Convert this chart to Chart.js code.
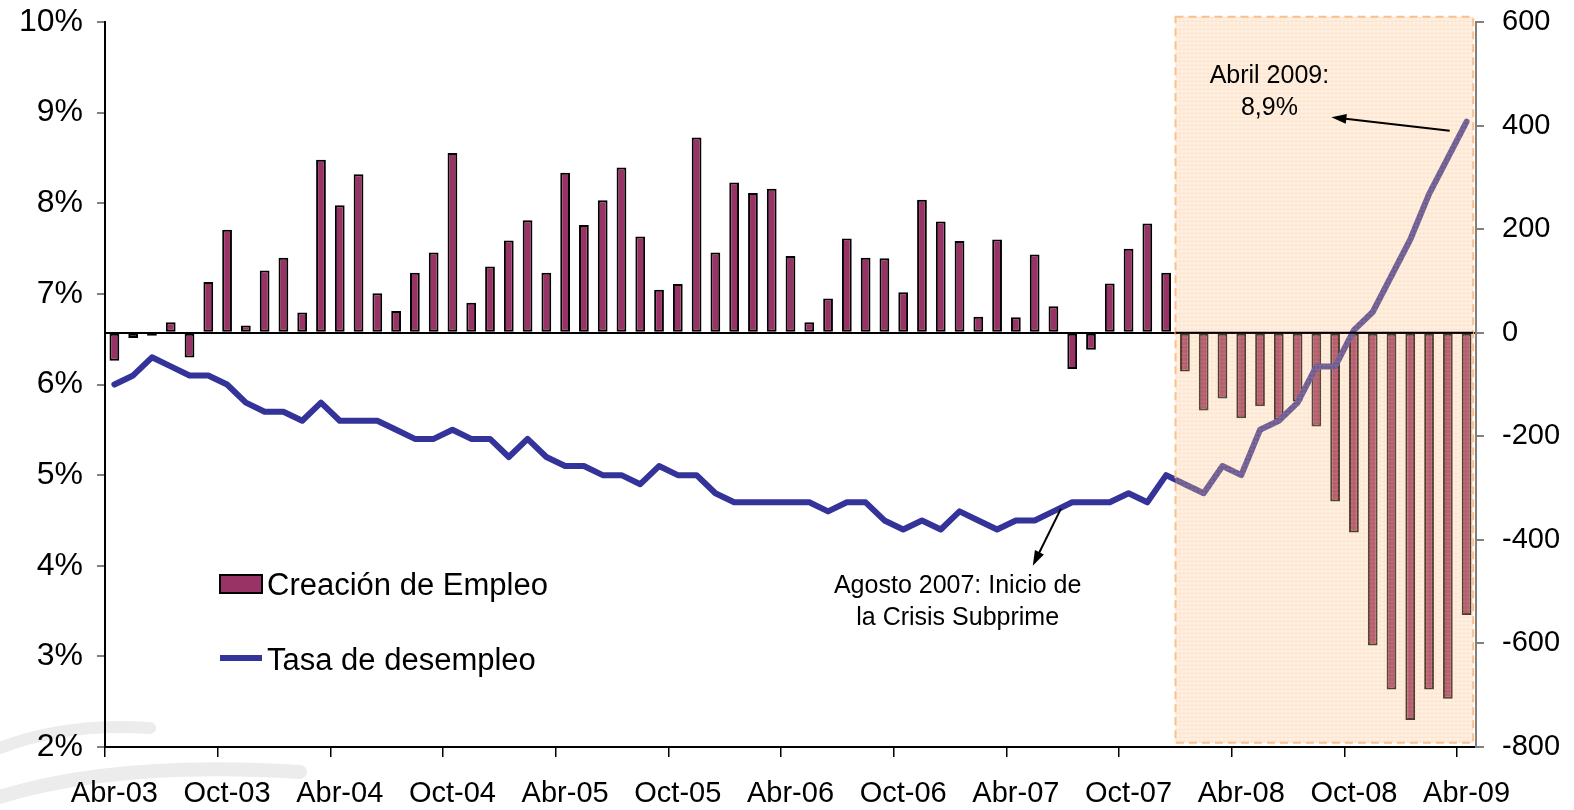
<!DOCTYPE html>
<html>
<head>
<meta charset="utf-8">
<script src="https://cdn.jsdelivr.net/npm/chart.js@4.4.1/dist/chart.umd.min.js"></script>
<style>
  html, body { margin: 0; padding: 0; background: #fff; }
</style>
</head>
<body>
<canvas id="grafico" width="1574" height="810"></canvas>
<script>
/* ===== Empleo vs desempleo, Abr-03 a Abr-09 ===== */

const meses = [
  'Abr-03', 'May-03', 'Jun-03', 'Jul-03', 'Ago-03', 'Sep-03', 'Oct-03', 'Nov-03', 'Dic-03',
  'Ene-04', 'Feb-04', 'Mar-04', 'Abr-04', 'May-04', 'Jun-04', 'Jul-04', 'Ago-04', 'Sep-04', 'Oct-04', 'Nov-04', 'Dic-04',
  'Ene-05', 'Feb-05', 'Mar-05', 'Abr-05', 'May-05', 'Jun-05', 'Jul-05', 'Ago-05', 'Sep-05', 'Oct-05', 'Nov-05', 'Dic-05',
  'Ene-06', 'Feb-06', 'Mar-06', 'Abr-06', 'May-06', 'Jun-06', 'Jul-06', 'Ago-06', 'Sep-06', 'Oct-06', 'Nov-06', 'Dic-06',
  'Ene-07', 'Feb-07', 'Mar-07', 'Abr-07', 'May-07', 'Jun-07', 'Jul-07', 'Ago-07', 'Sep-07', 'Oct-07', 'Nov-07', 'Dic-07',
  'Ene-08', 'Feb-08', 'Mar-08', 'Abr-08', 'May-08', 'Jun-08', 'Jul-08', 'Ago-08', 'Sep-08', 'Oct-08', 'Nov-08', 'Dic-08',
  'Ene-09', 'Feb-09', 'Mar-09', 'Abr-09'
];

// creación de empleo (miles), eje derecho
const empleo = [
  -54, -10, -6, 20, -48, 98, 199, 14, 120,
  145, 39, 334, 246, 306, 76, 42, 116, 155, 347, 58, 128,
  178, 217, 116, 309, 208, 256, 319, 186, 83, 94, 377, 155,
  290, 270, 278, 148, 20, 66, 182, 145, 144, 78, 257, 215,
  177, 31, 180, 30, 151, 51, -70, -33, 95, 162, 211, 116,
  -75, -150, -127, -165, -142, -168, -133, -181, -326, -386, -604, -689,
  -748, -689, -707, -545
];

// tasa de desempleo (%), eje izquierdo
const desempleo = [
  6.0, 6.1, 6.3, 6.2, 6.1, 6.1, 6.0, 5.8, 5.7,
  5.7, 5.6, 5.8, 5.6, 5.6, 5.6, 5.5, 5.4, 5.4, 5.5, 5.4, 5.4,
  5.2, 5.4, 5.2, 5.1, 5.1, 5.0, 5.0, 4.9, 5.1, 5.0, 5.0, 4.8,
  4.7, 4.7, 4.7, 4.7, 4.7, 4.6, 4.7, 4.7, 4.5, 4.4, 4.5, 4.4,
  4.6, 4.5, 4.4, 4.5, 4.5, 4.6, 4.7, 4.7, 4.7, 4.8, 4.7, 5.0,
  4.9, 4.8, 5.1, 5.0, 5.5, 5.6, 5.8, 6.2, 6.2, 6.6, 6.8, 7.2,
  7.6, 8.1, 8.5, 8.9
];

const FUENTE = "'Liberation Sans', Arial, sans-serif";

// zona sombreada de la crisis (índices de mes y valores del eje derecho)
const zonaCrisis = { desde: 56.5, hasta: 72.35, arriba: 610, abajo: -792 };

/**
 * Dibuja una flecha con punta rellena en (x2, y2).
 */
function flecha(ctx, x1, y1, x2, y2) {
  const ang = Math.atan2(y2 - y1, x2 - x1);
  const largo = 15, ancho = 5;
  ctx.save();
  ctx.strokeStyle = '#000';
  ctx.fillStyle = '#000';
  ctx.lineWidth = 2;
  ctx.beginPath();
  ctx.moveTo(x1, y1);
  ctx.lineTo(x2 - Math.cos(ang) * largo * 0.8, y2 - Math.sin(ang) * largo * 0.8);
  ctx.stroke();
  ctx.beginPath();
  ctx.moveTo(x2, y2);
  ctx.lineTo(x2 - largo * Math.cos(ang) + ancho * Math.sin(ang), y2 - largo * Math.sin(ang) - ancho * Math.cos(ang));
  ctx.lineTo(x2 - largo * Math.cos(ang) - ancho * Math.sin(ang), y2 - largo * Math.sin(ang) + ancho * Math.cos(ang));
  ctx.closePath();
  ctx.fill();
  ctx.restore();
}

// marca de agua gris en la esquina inferior izquierda
const fondoPlugin = {
  id: 'fondo',
  beforeDraw(chart) {
    const { ctx } = chart;
    ctx.save();
    ctx.strokeStyle = '#ececec';
    ctx.lineCap = 'round';
    ctx.lineWidth = 12;
    ctx.beginPath();
    ctx.moveTo(-10, 752);
    ctx.quadraticCurveTo(60, 722, 150, 728);
    ctx.stroke();
    ctx.lineWidth = 14;
    ctx.beginPath();
    ctx.moveTo(-10, 800);
    ctx.quadraticCurveTo(110, 760, 300, 772);
    ctx.stroke();
    ctx.restore();
  }
};

const zonaPlugin = {
  id: 'zona',
  afterDatasetsDraw(chart) {
    const { ctx, scales: { x, y1 } } = chart;
    const left = x.getPixelForValue(zonaCrisis.desde);
    const right = x.getPixelForValue(zonaCrisis.hasta);
    const top = y1.getPixelForValue(zonaCrisis.arriba);
    const bottom = y1.getPixelForValue(zonaCrisis.abajo);
    ctx.save();
    ctx.fillStyle = 'rgba(252, 200, 150, 0.28)';
    ctx.fillRect(left, top, right - left, bottom - top);
    // trama fina
    ctx.strokeStyle = 'rgba(250, 180, 120, 0.16)';
    ctx.lineWidth = 1;
    ctx.beginPath();
    for (let px = left; px < right; px += 4) { ctx.moveTo(px + 0.5, top); ctx.lineTo(px + 0.5, bottom); }
    for (let py = top; py < bottom; py += 4) { ctx.moveTo(left, py + 0.5); ctx.lineTo(right, py + 0.5); }
    ctx.stroke();
    ctx.setLineDash([8, 5]);
    ctx.strokeStyle = '#fbc08c';
    ctx.lineWidth = 2;
    ctx.strokeRect(left, top, right - left, bottom - top);
    ctx.setLineDash([]);
    // línea de cero visible sobre la zona
    const y0 = y1.getPixelForValue(0);
    ctx.strokeStyle = '#000';
    ctx.lineWidth = 2;
    ctx.beginPath();
    ctx.moveTo(left, y0);
    ctx.lineTo(right, y0);
    ctx.stroke();
    ctx.restore();
  }
};

const notasPlugin = {
  id: 'notas',
  afterDraw(chart) {
    const { ctx, scales: { x, y } } = chart;
    ctx.save();
    ctx.fillStyle = '#000';
    ctx.textAlign = 'center';
    ctx.textBaseline = 'middle';
    ctx.font = '25px ' + FUENTE;
    ctx.fillText('Abril 2009:', x.getPixelForValue(61.5), y.getPixelForValue(9.4));
    ctx.fillText('8,9%', x.getPixelForValue(61.5), y.getPixelForValue(9.05));
    flecha(ctx, x.getPixelForValue(71.1), y.getPixelForValue(8.8), x.getPixelForValue(64.8), y.getPixelForValue(8.95));

    ctx.fillText('Agosto 2007: Inicio de', x.getPixelForValue(44.9), y.getPixelForValue(3.77));
    ctx.fillText('la Crisis Subprime', x.getPixelForValue(44.9), y.getPixelForValue(3.42));
    flecha(ctx, x.getPixelForValue(50.4), y.getPixelForValue(4.63), x.getPixelForValue(48.9), y.getPixelForValue(4.0));

    // leyenda
    ctx.textAlign = 'left';
    ctx.font = '31px ' + FUENTE;
    ctx.fillStyle = '#993366';
    ctx.fillRect(220, 575, 42, 18);
    ctx.strokeStyle = '#000';
    ctx.lineWidth = 2;
    ctx.strokeRect(220, 575, 42, 18);
    ctx.fillStyle = '#000';
    ctx.fillText('Creación de Empleo', 267, 586);
    ctx.strokeStyle = '#333399';
    ctx.lineWidth = 6;
    ctx.beginPath();
    ctx.moveTo(220, 658);
    ctx.lineTo(262, 658);
    ctx.stroke();
    ctx.fillText('Tasa de desempleo', 267, 661);
    ctx.restore();
  }
};

new Chart(document.getElementById('grafico'), {
  data: {
    labels: meses,
    datasets: [
      {
        type: 'line',
        label: 'Tasa de desempleo',
        data: desempleo,
        yAxisID: 'y',
        borderColor: '#333399',
        borderWidth: 6,
        borderJoinStyle: 'round',
        borderCapStyle: 'round',
        pointRadius: 0,
        tension: 0,
        order: 0,
      },
      {
        type: 'bar',
        label: 'Creación de Empleo',
        data: empleo,
        yAxisID: 'y1',
        backgroundColor: '#993366',
        borderColor: '#000',
        borderWidth: 2,
        borderSkipped: false,
        barPercentage: 0.52,
        categoryPercentage: 1,
        order: 1,
      }
    ]
  },
  options: {
    responsive: false,
    animation: false,
    layout: { padding: { top: 22 } },
    plugins: {
      legend: { display: false },
      tooltip: { enabled: false }
    },
    scales: {
      x: {
        offset: true,
        grid: {
          offset: true,
          drawOnChartArea: false,
          tickLength: 10,
          lineWidth: 1.5,
          color: ctx => ctx.index % 6 === 0 ? '#000' : 'rgba(0,0,0,0)',
        },
        border: { color: '#000', width: 2 },
        ticks: {
          autoSkip: false,
          maxRotation: 0,
          padding: 20,
          color: '#000',
          font: { family: FUENTE, size: 29 },
          callback: (v, i) => i % 6 === 0 ? meses[i] : '',
        },
        afterFit: s => { s.height = 63; }
      },
      y: {
        position: 'left',
        min: 2,
        max: 10,
        grid: { drawOnChartArea: false, tickLength: 8, color: '#808080', lineWidth: 2 },
        border: { color: '#000', width: 2 },
        ticks: {
          stepSize: 1,
          padding: 14,
          color: '#000',
          font: { family: FUENTE, size: 32 },
          callback: v => v + '%',
        },
        afterFit: s => { s.width = 105; s.paddingTop = 0; s.paddingBottom = 0; }
      },
      y1: {
        position: 'right',
        min: -800,
        max: 600,
        grid: {
          drawOnChartArea: true,
          tickLength: 8,
          lineWidth: 2,
          tickColor: '#808080',
          color: ctx => ctx.tick && ctx.tick.value === 0 ? '#000' : 'rgba(0,0,0,0)',
        },
        border: { color: '#808080', width: 2 },
        ticks: {
          stepSize: 200,
          padding: 18,
          color: '#000',
          font: { family: FUENTE, size: 29 },
        },
        afterFit: s => { s.width = 98; s.paddingTop = 0; s.paddingBottom = 0; }
      }
    }
  },
  plugins: [fondoPlugin, zonaPlugin, notasPlugin]
});
</script>
</body>
</html>
